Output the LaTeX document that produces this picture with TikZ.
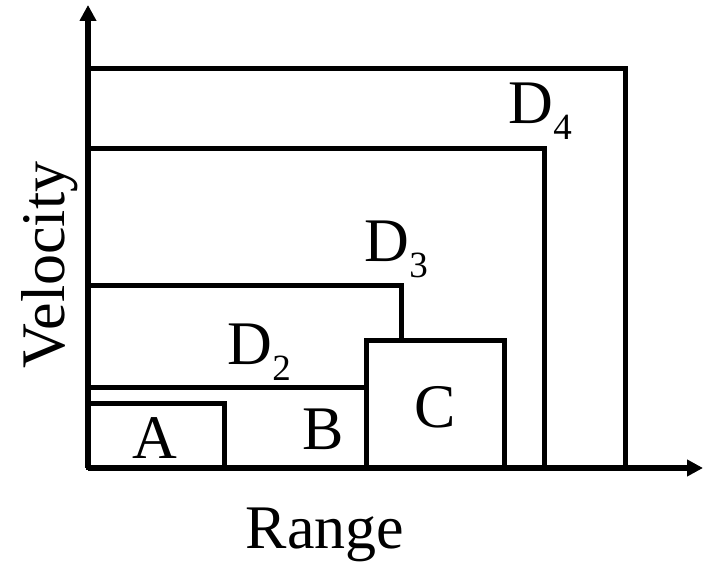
\documentclass[tikz,border=0pt]{standalone}
\usepackage{fontspec}
\setmainfont{Liberation Serif}
\usetikzlibrary{arrows.meta}
\newcommand{\dsub}[1]{\raisebox{-8pt}{\fontsize{18.5}{20}\selectfont #1}}

\begin{document}
\begin{tikzpicture}[x=0.5pt,y=0.5pt,line width=2.5pt,
    lbl/.style={font=\fontsize{31}{36}\selectfont,inner sep=0pt,anchor=base},
    axis/.style={line width=2.8pt,-{Triangle[length=8pt,width=8pt]}}]
  \useasboundingbox (0,0) rectangle (705,561);
  \coordinate (O) at (88,93);
  \coordinate (ytop) at (88,556);
  \coordinate (xend) at (703,93);
  \draw[axis] (O) -- (ytop);
  \draw[axis] (O) -- (xend);
  % D4 and D3
  \draw (88,492) -- (625,492) -- (625,93);
  \draw (88,412) -- (544,412) -- (544,93);
  % D2 and B
  \draw (88,275) -- (401,275) -- (401,220);
  \draw (88,173) -- (366,173);
  % C and A
  \draw (366,93) rectangle (504,220);
  \draw (88,93) rectangle (224,157);
  \node[lbl,anchor=base west] (d4) at (506,437) {D\dsub{4}};
  \node[lbl,anchor=base west] (d3) at (362,299) {D\dsub{3}};
  \node[lbl,anchor=base west] (d2) at (225,196) {D\dsub{2}};
  \node[lbl] (c) at (435,133) {C};
  \node[lbl] (b) at (323,111) {B};
  \node[lbl] (a) at (155,102) {A};
  \node[lbl] (xlab) at (325,13) {Range};
  \node[lbl,rotate=90] (ylab) at (64,296) {Velocity};
\end{tikzpicture}
\end{document}
